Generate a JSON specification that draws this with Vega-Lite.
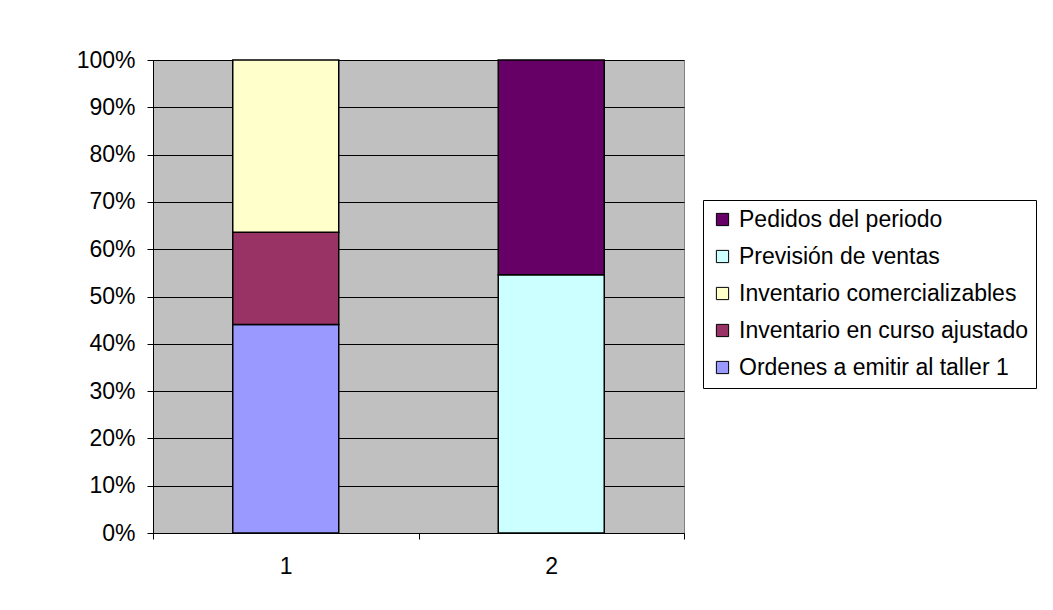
{
  "$schema": "https://vega.github.io/schema/vega-lite/v6.json",
  "width": 531,
  "height": 473,
  "autosize": {"type": "none"},
  "padding": {"left": 153, "top": 60, "right": 369, "bottom": 77},
  "background": "white",
  "data": {
    "values": [
      {"periodo": 1, "componente": "Ordenes a emitir al taller 1", "porcentaje": 44.1},
      {"periodo": 1, "componente": "Inventario en curso ajustado", "porcentaje": 19.5},
      {"periodo": 1, "componente": "Inventario comercializables", "porcentaje": 36.4},
      {"periodo": 2, "componente": "Previsión de ventas", "porcentaje": 54.6},
      {"periodo": 2, "componente": "Pedidos del periodo", "porcentaje": 45.4}
    ]
  },
  "transform": [
    {
      "calculate": "indexof(['Ordenes a emitir al taller 1', 'Inventario en curso ajustado', 'Inventario comercializables', 'Previsión de ventas', 'Pedidos del periodo'], datum.componente)",
      "as": "apilado"
    }
  ],
  "mark": {"type": "bar", "size": 106, "stroke": "black", "strokeWidth": 1.5},
  "encoding": {
    "x": {
      "field": "periodo",
      "type": "quantitative",
      "scale": {"domain": [0.5, 2.5], "nice": false, "zero": false, "padding": 0},
      "axis": {
        "title": null,
        "grid": false,
        "values": [0.5, 1, 1.5, 2, 2.5],
        "labelExpr": "datum.value == 1 || datum.value == 2 ? datum.value : ''",
        "tickOpacity": {"condition": {"test": "datum.value == 1 || datum.value == 2", "value": 0}, "value": 1},
        "tickSize": 6,
        "labelPadding": 16,
        "labelFlush": false,
        "labelOverlap": false
      }
    },
    "y": {
      "field": "porcentaje",
      "type": "quantitative",
      "stack": "normalize",
      "scale": {"domain": [0, 1], "nice": false},
      "axis": {
        "title": null,
        "format": ".0%",
        "values": [0, 0.1, 0.2, 0.3, 0.4, 0.5, 0.6, 0.7, 0.8, 0.9, 1],
        "grid": true,
        "gridColor": "black",
        "gridOpacity": 1,
        "gridWidth": 1,
        "tickSize": 6,
        "labelPadding": 12
      }
    },
    "color": {
      "field": "componente",
      "type": "nominal",
      "scale": {
        "domain": ["Pedidos del periodo", "Previsión de ventas", "Inventario comercializables", "Inventario en curso ajustado", "Ordenes a emitir al taller 1"],
        "range": ["#660066", "#CCFFFF", "#FFFFCC", "#993366", "#9999FF"]
      },
      "legend": {
        "title": null,
        "orient": "none",
        "legendX": 550,
        "legendY": 140,
        "symbolType": "square",
        "symbolSize": 150,
        "symbolStrokeColor": "black",
        "symbolStrokeWidth": 1,
        "symbolOpacity": 1,
        "labelFontSize": 23,
        "labelLimit": 400,
        "rowPadding": 13,
        "padding": 8,
        "strokeColor": "black",
        "fillColor": "white",
        "symbolOffset": 0,
        "labelOffset": 5
      }
    },
    "order": {"field": "apilado", "type": "quantitative"}
  },
  "config": {
    "font": "Liberation Sans",
    "view": {"fill": "#C0C0C0", "stroke": "#808080", "strokeWidth": 1},
    "axis": {
      "domainColor": "black",
      "domainWidth": 1,
      "tickColor": "black",
      "tickWidth": 1,
      "labelFont": "Liberation Sans",
      "labelFontSize": 23,
      "labelColor": "black"
    },
    "legend": {"labelFont": "Liberation Sans", "labelColor": "black"}
  }
}
